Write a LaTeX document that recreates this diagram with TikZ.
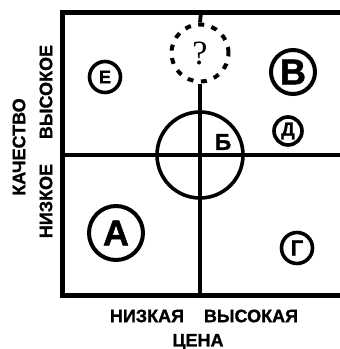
\documentclass[tikz,border=0pt]{standalone}
\usepackage{fontspec}
\setmainfont{Liberation Sans}[BoldFeatures={FakeBold=1.2}]
\newfontfamily\qfont{Liberation Serif}
\usepackage{tikz}
\usetikzlibrary{positioning}

\begin{document}
\begin{tikzpicture}[
    x=1pt, y=-1pt,
    every node/.style={font=\bfseries},
    frame/.style={line width=5pt},
    axis/.style={line width=3.8pt},
    ring/.style={circle, draw, line width=3.6pt, inner sep=0pt},
    axislabel/.style={font=\bfseries\fontsize{18}{18}\selectfont}
  ]
  \useasboundingbox (0,0) rectangle (340,349);

  % frame and axes
  \draw[frame] (343,12.5) -- (62.5,12.5) -- (62.5,295) -- (343,295);
  \coordinate (top) at (201,12.5);
  \coordinate (bottom) at (200,295);
  \coordinate (left) at (62.5,155);
  \coordinate (right) at (343,155);

  \node[ring, minimum size=86pt] (centre) at (200,155) {};
  \node[ring, dash pattern=on 6pt off 7.5pt, line width=4pt, minimum size=57pt] (q) at (200,53)
    {\qfont\mdseries\fontsize{34}{34}\selectfont ?};

  \draw[axis, line width=3.2pt] (left) -- (right);
  \draw[axis] (q.south) -- (bottom);
  \draw[axis] (top) -- (q.north);

  % competitors
  \node[ring, minimum size=31pt, font=\bfseries\fontsize{18}{18}\selectfont] (e) at (105,77) {Е};
  \node[ring, minimum size=44pt, line width=4pt, font=\bfseries\fontsize{36}{36}\selectfont] (v) at (293,72) {В};
  \node[ring, minimum size=28pt, font=\bfseries\fontsize{19}{19}\selectfont] (d) at (288,131) {Д};
  \node[font=\bfseries\fontsize{23}{23}\selectfont] (b) at (223,142) {Б};
  \node[ring, minimum size=54pt, line width=4pt, font=\bfseries\fontsize{36}{36}\selectfont] (a) at (116,233) {А};
  \node[ring, minimum size=31pt, font=\bfseries\fontsize{22}{22}\selectfont] (g) at (297,248) {Г};

  % axis labels
  \node[axislabel] (low) at (147,316) {НИЗКАЯ};
  \node[axislabel] (high) at (251,316) {ВЫСОКАЯ};
  \node[axislabel] (price) at (198,342) {ЦЕНА};
  \node[axislabel, rotate=90] (quality) at (19,147) {КАЧЕСТВО};
  \node[axislabel, rotate=90] (hi) at (46,92) {ВЫСОКОЕ};
  \node[axislabel, rotate=90] (lo) at (46,201) {НИЗКОЕ};
\end{tikzpicture}
\end{document}
